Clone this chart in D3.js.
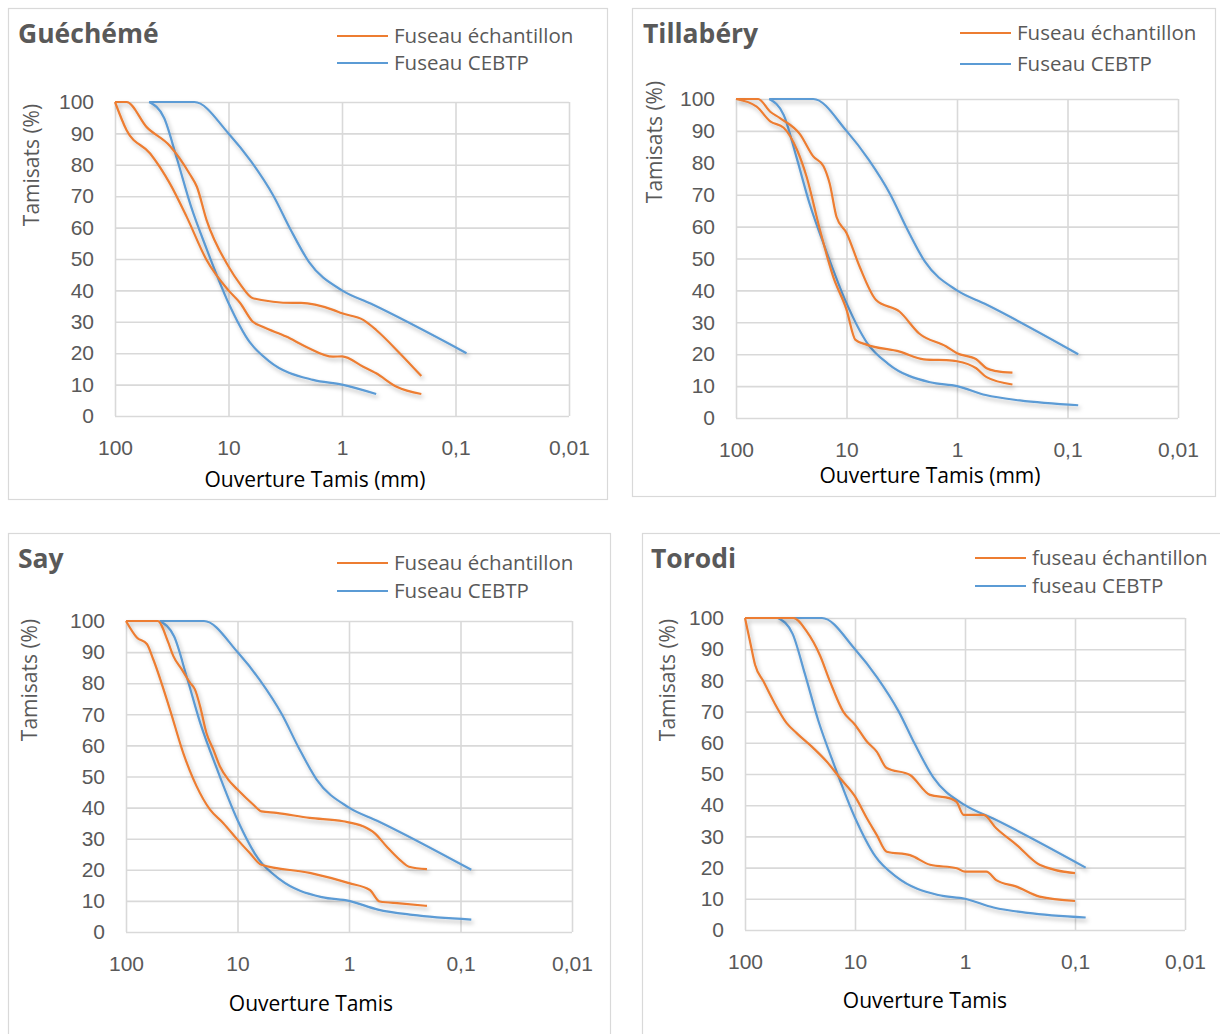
<!DOCTYPE html>
<html>
<head>
<meta charset="utf-8">
<script src="https://cdn.jsdelivr.net/npm/d3@7"></script>
<style>
  html, body { margin: 0; padding: 0; background: #fff; }
  svg { display: block; font-family: "Open Sans", "Noto Sans", sans-serif; }
</style>
</head>
<body>
<svg id="chart" width="1220" height="1034"></svg>
<script>
// ---------- DATA (sieve opening in mm, percent passing) ----------
const xTickValues = [100, 10, 1, 0.1, 0.01];
const xTickLabels = ["100", "10", "1", "0,1", "0,01"];
const yTickValues = [0, 10, 20, 30, 40, 50, 60, 70, 80, 90, 100];

const panelTitles = ["Guéchémé", "Tillabéry", "Say", "Torodi"];
const legendLabelsA = ["Fuseau échantillon", "Fuseau CEBTP"];
const legendLabelsB = ["fuseau échantillon", "fuseau CEBTP"];
const xAxisTitles = ["Ouverture Tamis (mm)", "Ouverture Tamis (mm)", "Ouverture Tamis", "Ouverture Tamis"];
const yAxisTitle = "Tamisats (%)";

// CEBTP envelope (same reference spindle in every panel)
const cebtpSup = [[50,100],[20,100],[10,90],[6.3,81],[4,70],[2.85,59.5],[1.95,49],[1,40],[0.56,35.8],[0.08,20]];
const cebtpInf = [[50,100],[37,95],[28.5,82],[21.5,67],[15.5,53],[10,36],[6.5,23.5],[4.2,17],[1.75,11.2],[1,10],[0.55,7.2],[0.27,5.5],[0.08,4]];
const cebtpInfGue = [[50,100],[37,95],[28.5,82],[21.5,67],[15.5,53],[10,36],[6.5,23.5],[4.4,17.5],[1.8,11.5],[1,10],[0.5,7]];

// Guéchémé sample envelope
const gueEchSup = [[100,100],[79,100],[52.6,92],[32.8,86],[21.9,77],[19,73],[15.6,62.4],[10,47.6],[7.9,42],[6.1,37.5],[2.7,36],[2.3,36],[1.2,33.8],[1,32.7],[0.65,30.6],[0.5,27.4],[0.31,20],[0.2,12.7]];
const gueEchInf = [[100,100],[79,91],[49,83.6],[32.8,74],[23.4,63.5],[15.6,49.7],[10,40],[7.9,36],[6.1,30],[5,28.4],[3.1,25.3],[2.06,22],[1.2,18.9],[1,19],[0.65,15.7],[0.5,13.6],[0.33,9.3],[0.2,7]];

// Tillabéry sample envelope
const tilEchSup = [[100,100],[63,100],[49,96],[40,94],[26.4,89],[20,82],[16.2,79],[14.2,73.5],[12.3,63],[10,58],[7.6,47.4],[5.4,37],[3.3,33.3],[2.2,26.5],[1.25,22.4],[1,20.3],[0.67,18.4],[0.54,15.6],[0.44,14.7],[0.315,14.2]];
const tilEchInf = [[100,100],[65,97.6],[49,93],[37,91],[28,84],[23,75.7],[17.4,59],[13.2,44.3],[10,34],[8.3,24.5],[6.6,23],[3.3,20.8],[2,18.4],[1.1,18],[1,17.8],[0.67,15.6],[0.54,12.8],[0.315,10.5]];

// Say sample envelope
const sayEchSup = [[100,100],[52,100],[41.8,93.1],[37.7,88.8],[31.7,84.5],[26.7,80.2],[24.1,78],[21.7,72.7],[19,64],[16.5,58.7],[14.4,53.3],[12.1,49],[10,45.8],[7.24,41],[6.1,38.8],[4.48,38.3],[2.25,36.7],[1.13,35.6],[0.75,34],[0.59,31.8],[0.46,27.5],[0.35,23.2],[0.29,21],[0.2,20.2]];
const sayEchInf = [[100,100],[80,94.7],[65,92.6],[57,87.7],[40.4,71.6],[30.7,57.6],[23.3,46.9],[17.7,39.4],[13.4,35],[10,29.7],[7.76,25.4],[6.1,21.6],[2.25,19],[1,15.7],[0.65,13.5],[0.53,9.8],[0.35,9.2],[0.2,8.4]];

// Torodi sample envelope
const torEchSup = [[100,100],[36.3,100],[27.5,95.7],[20.8,88],[16.9,79.7],[12.8,70],[10,65.8],[7.8,60.4],[6.35,57.2],[5.15,51.9],[3.16,49.7],[2.08,43.3],[1.37,42.2],[1.19,41],[1.03,36.9],[0.68,36.9],[0.52,32.6],[0.34,27.3],[0.21,20.9],[0.1,18.2]];
const torEchInf = [[100,100],[90,92.5],[81,85],[68,79.7],[55,73.3],[41.8,66.3],[33.9,63.1],[23.9,58.3],[18.1,54],[13.7,48.7],[10,42.8],[7.8,35.8],[6.35,30.5],[5.15,25.1],[3.16,24],[2.08,20.9],[1.19,19.8],[1,18.7],[0.64,18.7],[0.52,16],[0.34,13.9],[0.21,10.7],[0.1,9.3]];

// ---------- STYLE ----------
const ORANGE = "#ED7D31";
const BLUE = "#5B9BD5";
const GRID = "#d9d9d9";
const TXT = "#595959";
const FS = 21;

// ---------- LAYOUT ----------
const panels = [
  { title: panelTitles[0], box: [8, 8, 599, 491], plot: [115, 569, 102, 416], titleXY: [18, 43],
    legend: { x: 337, y: [36, 63], labels: legendLabelsA }, xTitle: xAxisTitles[0], xTitleXY: [315, 480],
    yTitleX: 32, yTitleY: 165, series: [gueEchSup, gueEchInf], cebtp: [cebtpSup, cebtpInfGue] },
  { title: panelTitles[1], box: [632, 8, 583, 488], plot: [736, 1178, 99, 418], titleXY: [643, 43],
    legend: { x: 960, y: [33, 64], labels: legendLabelsA }, xTitle: xAxisTitles[1], xTitleXY: [930, 476],
    yTitleX: 655, yTitleY: 142, series: [tilEchSup, tilEchInf], cebtp: [cebtpSup, cebtpInf] },
  { title: panelTitles[2], box: [8, 533, 602, 520], plot: [126, 572, 621, 932], titleXY: [18, 568],
    legend: { x: 337, y: [563, 591], labels: legendLabelsA }, xTitle: xAxisTitles[2], xTitleXY: [311, 1004],
    yTitleX: 30, yTitleY: 680, series: [sayEchSup, sayEchInf], cebtp: [cebtpSup, cebtpInf] },
  { title: panelTitles[3], box: [642, 533, 600, 520], plot: [745, 1185, 618, 930], titleXY: [651, 568],
    legend: { x: 975, y: [558, 586], labels: legendLabelsB }, xTitle: xAxisTitles[3], xTitleXY: [925, 1001],
    yTitleX: 668, yTitleY: 680, series: [torEchSup, torEchInf], cebtp: [cebtpSup, cebtpInf] }
];

const svg = d3.select("#chart");

const defs = svg.append("defs");
const f = defs.append("filter").attr("id", "shadow").attr("x", "-10%").attr("y", "-10%").attr("width", "130%").attr("height", "130%");
f.append("feDropShadow").attr("dx", 2).attr("dy", 3).attr("stdDeviation", 2)
  .attr("flood-color", "#000").attr("flood-opacity", 0.28);

panels.forEach(p => {
  const g = svg.append("g");
  const [bx, by, bw, bh] = p.box;
  g.append("rect").attr("x", bx + 0.5).attr("y", by + 0.5).attr("width", bw).attr("height", bh)
    .attr("fill", "#fff").attr("stroke", GRID).attr("stroke-width", 1.2);

  const [x0, x1, y0, y1] = p.plot;
  const x = d3.scaleLog().domain([100, 0.01]).range([x0, x1]);
  const y = d3.scaleLinear().domain([0, 100]).range([y1, y0]);

  // y axis: gridlines + labels
  const yAxis = d3.axisLeft(y).tickValues(yTickValues).tickSizeInner(-(x1 - x0)).tickSizeOuter(0).tickPadding(21)
    .tickFormat(d3.format("d"));
  const gy = g.append("g").attr("transform", `translate(${x0},0)`).call(yAxis);
  gy.select(".domain").remove();
  gy.selectAll(".tick line").attr("stroke", GRID).attr("stroke-width", 1.6);
  gy.selectAll(".tick text").attr("fill", TXT).attr("font-size", FS);

  // x axis: gridlines + labels
  const xAxis = d3.axisBottom(x).tickValues(xTickValues).tickSizeInner(-(y1 - y0)).tickSizeOuter(0).tickPadding(24)
    .tickFormat((d, i) => xTickLabels[i]);
  const gx = g.append("g").attr("transform", `translate(0,${y1})`).call(xAxis);
  gx.select(".domain").remove();
  gx.selectAll(".tick line").attr("stroke", GRID).attr("stroke-width", 1.6);
  gx.selectAll(".tick text").attr("fill", TXT).attr("font-size", FS);

  // curves
  const line = d3.line().x(d => x(d[0])).y(d => y(d[1])).curve(d3.curveMonotoneX);
  p.cebtp.forEach(s => {
    g.append("path").datum(s).attr("d", line).attr("fill", "none").attr("stroke", BLUE)
      .attr("stroke-width", 2.2).attr("stroke-linejoin", "round").attr("filter", "url(#shadow)");
  });
  p.series.forEach(s => {
    g.append("path").datum(s).attr("d", line).attr("fill", "none").attr("stroke", ORANGE)
      .attr("stroke-width", 2.2).attr("stroke-linejoin", "round").attr("filter", "url(#shadow)");
  });

  // title
  g.append("text").attr("x", p.titleXY[0]).attr("y", p.titleXY[1]).text(p.title)
    .attr("font-weight", "bold").attr("font-size", 26.5).attr("fill", TXT);

  // legend
  const colors = [ORANGE, BLUE];
  p.legend.labels.forEach((lab, i) => {
    const ly = p.legend.y[i];
    g.append("line").attr("x1", p.legend.x).attr("x2", p.legend.x + 51).attr("y1", ly).attr("y2", ly)
      .attr("stroke", colors[i]).attr("stroke-width", 2.2);
    g.append("text").attr("x", p.legend.x + 57).attr("y", ly).attr("dy", "0.35em").text(lab)
      .attr("font-size", 20.5).attr("fill", TXT);
  });

  // axis titles
  g.append("text").attr("x", p.xTitleXY[0]).attr("y", p.xTitleXY[1]).attr("dy", "0.35em")
    .attr("text-anchor", "middle").attr("font-size", FS).attr("fill", "#000").text(p.xTitle);
  g.append("text").attr("transform", `translate(${p.yTitleX},${p.yTitleY}) rotate(-90)`).attr("dy", "0.35em")
    .attr("text-anchor", "middle").attr("font-size", FS).attr("fill", TXT).text(yAxisTitle);
});
</script>
</body>
</html>
